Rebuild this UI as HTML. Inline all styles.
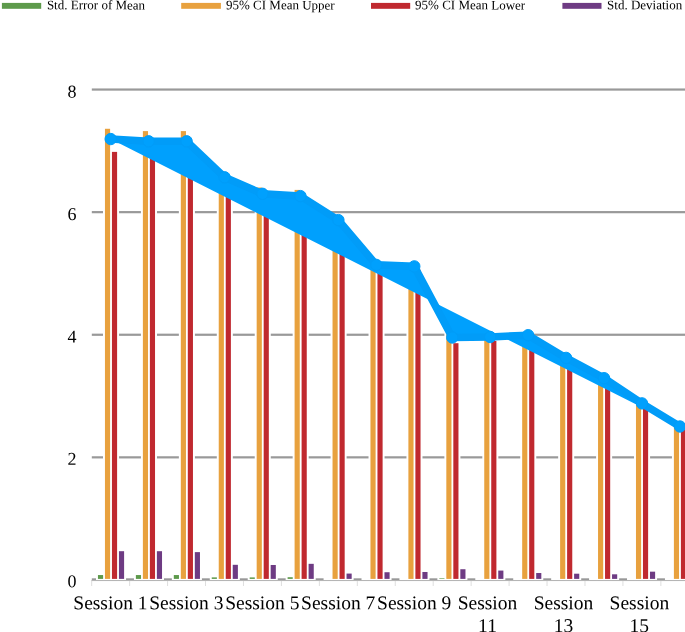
<!DOCTYPE html><html><head><meta charset="utf-8"><style>html,body{margin:0;padding:0;background:#fff;overflow:hidden}svg{display:block;will-change:transform}</style></head><body>
<svg width="685" height="632" viewBox="0 0 685 632" font-family="Liberation Serif, serif">
<rect width="685" height="632" fill="#fff"/>
<rect x="1.9" y="2.9" width="39.30" height="5.9" fill="#5d9a4b"/>
<text x="46.9" y="9.3" font-size="13" fill="#000" transform="rotate(0.05 46.9 9.3)">Std. Error of Mean</text>
<rect x="181.2" y="2.9" width="39.70" height="5.9" fill="#e8a13e"/>
<text x="226.0" y="9.3" font-size="13" fill="#000" transform="rotate(0.05 226.0 9.3)">95% CI Mean Upper</text>
<rect x="371.0" y="2.9" width="39.20" height="5.9" fill="#c0292f"/>
<text x="415.1" y="9.3" font-size="13" fill="#000" transform="rotate(0.05 415.1 9.3)">95% CI Mean Lower</text>
<rect x="562.4" y="2.9" width="39.10" height="5.9" fill="#6e3b83"/>
<text x="607.1" y="9.3" font-size="13" fill="#000" transform="rotate(0.05 607.1 9.3)">Std. Deviation</text>
<rect x="91.8" y="578.30" width="600" height="2.2" fill="#999999"/>
<rect x="91.8" y="456.25" width="600" height="2.2" fill="#999999"/>
<rect x="91.8" y="333.65" width="600" height="2.2" fill="#999999"/>
<rect x="91.8" y="211.05" width="600" height="2.2" fill="#999999"/>
<rect x="91.8" y="88.45" width="600" height="2.2" fill="#999999"/>
<text x="76.5" y="587.35" font-size="18" text-anchor="end" fill="#000" transform="rotate(0.05 76.5 587.35)">0</text>
<text x="76.5" y="464.85" font-size="18" text-anchor="end" fill="#000" transform="rotate(0.05 76.5 464.85)">2</text>
<text x="76.5" y="342.45" font-size="18" text-anchor="end" fill="#000" transform="rotate(0.05 76.5 342.45)">4</text>
<text x="76.5" y="219.90" font-size="18" text-anchor="end" fill="#000" transform="rotate(0.05 76.5 219.90)">6</text>
<text x="76.5" y="97.50" font-size="18" text-anchor="end" fill="#000" transform="rotate(0.05 76.5 97.50)">8</text>
<rect x="96.00" y="573.10" width="9.05" height="7.05" fill="#fff"/>
<rect x="103.00" y="126.83" width="9.05" height="453.32" fill="#fff"/>
<rect x="110.00" y="149.94" width="9.05" height="430.21" fill="#fff"/>
<rect x="117.00" y="549.25" width="9.05" height="30.90" fill="#fff"/>
<rect x="133.93" y="573.10" width="9.05" height="7.05" fill="#fff"/>
<rect x="140.93" y="129.15" width="9.05" height="451.00" fill="#fff"/>
<rect x="147.93" y="151.42" width="9.05" height="428.73" fill="#fff"/>
<rect x="154.93" y="549.25" width="9.05" height="30.90" fill="#fff"/>
<rect x="171.86" y="573.10" width="9.05" height="7.05" fill="#fff"/>
<rect x="178.86" y="129.15" width="9.05" height="451.00" fill="#fff"/>
<rect x="185.86" y="151.04" width="9.05" height="429.11" fill="#fff"/>
<rect x="192.86" y="550.17" width="9.05" height="29.98" fill="#fff"/>
<rect x="209.79" y="575.43" width="9.05" height="4.72" fill="#fff"/>
<rect x="216.79" y="168.99" width="9.05" height="411.16" fill="#fff"/>
<rect x="223.79" y="181.71" width="9.05" height="398.44" fill="#fff"/>
<rect x="230.79" y="562.86" width="9.05" height="17.29" fill="#fff"/>
<rect x="247.72" y="575.46" width="9.05" height="4.69" fill="#fff"/>
<rect x="254.72" y="185.57" width="9.05" height="394.58" fill="#fff"/>
<rect x="261.72" y="198.13" width="9.05" height="382.02" fill="#fff"/>
<rect x="268.72" y="563.04" width="9.05" height="17.11" fill="#fff"/>
<rect x="285.65" y="575.27" width="9.05" height="4.88" fill="#fff"/>
<rect x="292.65" y="187.95" width="9.05" height="392.20" fill="#fff"/>
<rect x="299.65" y="200.92" width="9.05" height="379.23" fill="#fff"/>
<rect x="306.65" y="561.88" width="9.05" height="18.27" fill="#fff"/>
<rect x="323.58" y="578.00" width="9.05" height="2.15" fill="#fff"/>
<rect x="330.58" y="215.47" width="9.05" height="364.68" fill="#fff"/>
<rect x="337.58" y="220.83" width="9.05" height="359.32" fill="#fff"/>
<rect x="344.58" y="571.62" width="9.05" height="8.53" fill="#fff"/>
<rect x="361.51" y="578.00" width="9.05" height="2.15" fill="#fff"/>
<rect x="368.51" y="259.71" width="9.05" height="320.44" fill="#fff"/>
<rect x="375.51" y="266.19" width="9.05" height="313.96" fill="#fff"/>
<rect x="382.51" y="570.28" width="9.05" height="9.87" fill="#fff"/>
<rect x="399.44" y="578.00" width="9.05" height="2.15" fill="#fff"/>
<rect x="406.44" y="261.10" width="9.05" height="319.05" fill="#fff"/>
<rect x="413.44" y="267.80" width="9.05" height="312.35" fill="#fff"/>
<rect x="420.44" y="570.03" width="9.05" height="10.12" fill="#fff"/>
<rect x="437.37" y="576.34" width="9.05" height="3.81" fill="#fff"/>
<rect x="444.37" y="331.04" width="9.05" height="249.11" fill="#fff"/>
<rect x="451.37" y="341.25" width="9.05" height="238.90" fill="#fff"/>
<rect x="458.37" y="567.27" width="9.05" height="12.88" fill="#fff"/>
<rect x="475.30" y="578.00" width="9.05" height="2.15" fill="#fff"/>
<rect x="482.30" y="331.11" width="9.05" height="249.04" fill="#fff"/>
<rect x="489.30" y="338.99" width="9.05" height="241.16" fill="#fff"/>
<rect x="496.30" y="568.62" width="9.05" height="11.53" fill="#fff"/>
<rect x="513.23" y="578.00" width="9.05" height="2.15" fill="#fff"/>
<rect x="520.23" y="330.34" width="9.05" height="249.81" fill="#fff"/>
<rect x="527.23" y="336.16" width="9.05" height="243.99" fill="#fff"/>
<rect x="534.23" y="571.07" width="9.05" height="9.08" fill="#fff"/>
<rect x="551.16" y="578.00" width="9.05" height="2.15" fill="#fff"/>
<rect x="558.16" y="353.32" width="9.05" height="226.83" fill="#fff"/>
<rect x="565.16" y="358.58" width="9.05" height="221.57" fill="#fff"/>
<rect x="572.16" y="571.75" width="9.05" height="8.40" fill="#fff"/>
<rect x="589.09" y="578.00" width="9.05" height="2.15" fill="#fff"/>
<rect x="596.09" y="373.88" width="9.05" height="206.27" fill="#fff"/>
<rect x="603.09" y="378.62" width="9.05" height="201.53" fill="#fff"/>
<rect x="610.09" y="572.36" width="9.05" height="7.79" fill="#fff"/>
<rect x="627.02" y="578.00" width="9.05" height="2.15" fill="#fff"/>
<rect x="634.02" y="397.97" width="9.05" height="182.18" fill="#fff"/>
<rect x="641.02" y="404.93" width="9.05" height="175.22" fill="#fff"/>
<rect x="648.02" y="569.72" width="9.05" height="10.43" fill="#fff"/>
<rect x="664.95" y="578.00" width="9.05" height="2.15" fill="#fff"/>
<rect x="671.95" y="421.46" width="9.05" height="158.69" fill="#fff"/>
<rect x="678.95" y="427.64" width="9.05" height="152.51" fill="#fff"/>
<rect x="685.95" y="570.64" width="9.05" height="9.51" fill="#fff"/>
<rect x="97.95" y="575.05" width="5.15" height="3.85" fill="#5d9a4b"/>
<rect x="104.95" y="128.78" width="5.15" height="450.12" fill="#e8a13e"/>
<rect x="111.95" y="151.89" width="5.15" height="427.01" fill="#c0292f"/>
<rect x="118.95" y="551.20" width="5.15" height="27.70" fill="#6e3b83"/>
<rect x="135.88" y="575.05" width="5.15" height="3.85" fill="#5d9a4b"/>
<rect x="142.88" y="131.10" width="5.15" height="447.80" fill="#e8a13e"/>
<rect x="149.88" y="153.37" width="5.15" height="425.53" fill="#c0292f"/>
<rect x="156.88" y="551.20" width="5.15" height="27.70" fill="#6e3b83"/>
<rect x="173.81" y="575.05" width="5.15" height="3.85" fill="#5d9a4b"/>
<rect x="180.81" y="131.10" width="5.15" height="447.80" fill="#e8a13e"/>
<rect x="187.81" y="152.99" width="5.15" height="425.91" fill="#c0292f"/>
<rect x="194.81" y="552.12" width="5.15" height="26.78" fill="#6e3b83"/>
<rect x="211.74" y="577.38" width="5.15" height="1.52" fill="#5d9a4b"/>
<rect x="218.74" y="170.94" width="5.15" height="407.96" fill="#e8a13e"/>
<rect x="225.74" y="183.66" width="5.15" height="395.24" fill="#c0292f"/>
<rect x="232.74" y="564.81" width="5.15" height="14.09" fill="#6e3b83"/>
<rect x="249.67" y="577.41" width="5.15" height="1.49" fill="#5d9a4b"/>
<rect x="256.67" y="187.52" width="5.15" height="391.38" fill="#e8a13e"/>
<rect x="263.67" y="200.08" width="5.15" height="378.82" fill="#c0292f"/>
<rect x="270.67" y="564.99" width="5.15" height="13.91" fill="#6e3b83"/>
<rect x="287.60" y="577.22" width="5.15" height="1.68" fill="#5d9a4b"/>
<rect x="294.60" y="189.90" width="5.15" height="389.00" fill="#e8a13e"/>
<rect x="301.60" y="202.87" width="5.15" height="376.03" fill="#c0292f"/>
<rect x="308.60" y="563.83" width="5.15" height="15.07" fill="#6e3b83"/>
<rect x="325.53" y="579.95" width="5.15" height="0.00" fill="#5d9a4b"/>
<rect x="332.53" y="217.42" width="5.15" height="361.48" fill="#e8a13e"/>
<rect x="339.53" y="222.78" width="5.15" height="356.12" fill="#c0292f"/>
<rect x="346.53" y="573.57" width="5.15" height="5.33" fill="#6e3b83"/>
<rect x="363.46" y="579.95" width="5.15" height="0.00" fill="#5d9a4b"/>
<rect x="370.46" y="261.66" width="5.15" height="317.24" fill="#e8a13e"/>
<rect x="377.46" y="268.14" width="5.15" height="310.76" fill="#c0292f"/>
<rect x="384.46" y="572.23" width="5.15" height="6.67" fill="#6e3b83"/>
<rect x="401.39" y="579.95" width="5.15" height="0.00" fill="#5d9a4b"/>
<rect x="408.39" y="263.05" width="5.15" height="315.85" fill="#e8a13e"/>
<rect x="415.39" y="269.75" width="5.15" height="309.15" fill="#c0292f"/>
<rect x="422.39" y="571.98" width="5.15" height="6.92" fill="#6e3b83"/>
<rect x="439.32" y="578.29" width="5.15" height="0.61" fill="#5d9a4b"/>
<rect x="446.32" y="332.99" width="5.15" height="245.91" fill="#e8a13e"/>
<rect x="453.32" y="343.20" width="5.15" height="235.70" fill="#c0292f"/>
<rect x="460.32" y="569.22" width="5.15" height="9.68" fill="#6e3b83"/>
<rect x="477.25" y="579.95" width="5.15" height="0.00" fill="#5d9a4b"/>
<rect x="484.25" y="333.06" width="5.15" height="245.84" fill="#e8a13e"/>
<rect x="491.25" y="340.94" width="5.15" height="237.96" fill="#c0292f"/>
<rect x="498.25" y="570.57" width="5.15" height="8.33" fill="#6e3b83"/>
<rect x="515.18" y="579.95" width="5.15" height="0.00" fill="#5d9a4b"/>
<rect x="522.18" y="332.29" width="5.15" height="246.61" fill="#e8a13e"/>
<rect x="529.18" y="338.11" width="5.15" height="240.79" fill="#c0292f"/>
<rect x="536.18" y="573.02" width="5.15" height="5.88" fill="#6e3b83"/>
<rect x="553.11" y="579.95" width="5.15" height="0.00" fill="#5d9a4b"/>
<rect x="560.11" y="355.27" width="5.15" height="223.63" fill="#e8a13e"/>
<rect x="567.11" y="360.53" width="5.15" height="218.37" fill="#c0292f"/>
<rect x="574.11" y="573.70" width="5.15" height="5.20" fill="#6e3b83"/>
<rect x="591.04" y="579.95" width="5.15" height="0.00" fill="#5d9a4b"/>
<rect x="598.04" y="375.83" width="5.15" height="203.07" fill="#e8a13e"/>
<rect x="605.04" y="380.57" width="5.15" height="198.33" fill="#c0292f"/>
<rect x="612.04" y="574.31" width="5.15" height="4.59" fill="#6e3b83"/>
<rect x="628.97" y="579.95" width="5.15" height="0.00" fill="#5d9a4b"/>
<rect x="635.97" y="399.92" width="5.15" height="178.98" fill="#e8a13e"/>
<rect x="642.97" y="406.88" width="5.15" height="172.02" fill="#c0292f"/>
<rect x="649.97" y="571.67" width="5.15" height="7.23" fill="#6e3b83"/>
<rect x="666.90" y="579.95" width="5.15" height="0.00" fill="#5d9a4b"/>
<rect x="673.90" y="423.41" width="5.15" height="155.49" fill="#e8a13e"/>
<rect x="680.90" y="429.59" width="5.15" height="149.31" fill="#c0292f"/>
<rect x="687.90" y="572.59" width="5.15" height="6.31" fill="#6e3b83"/>
<rect x="91.4" y="580.15" width="600" height="0.9" fill="#b0b0b0"/>
<rect x="91.18" y="581" width="1" height="5" fill="#dedede"/>
<rect x="129.13" y="581" width="1" height="5" fill="#dedede"/>
<rect x="167.07" y="581" width="1" height="5" fill="#dedede"/>
<rect x="205.02" y="581" width="1" height="5" fill="#dedede"/>
<rect x="242.96" y="581" width="1" height="5" fill="#dedede"/>
<rect x="280.91" y="581" width="1" height="5" fill="#dedede"/>
<rect x="318.86" y="581" width="1" height="5" fill="#dedede"/>
<rect x="356.80" y="581" width="1" height="5" fill="#dedede"/>
<rect x="394.75" y="581" width="1" height="5" fill="#dedede"/>
<rect x="432.69" y="581" width="1" height="5" fill="#dedede"/>
<rect x="470.64" y="581" width="1" height="5" fill="#dedede"/>
<rect x="508.59" y="581" width="1" height="5" fill="#dedede"/>
<rect x="546.53" y="581" width="1" height="5" fill="#dedede"/>
<rect x="584.48" y="581" width="1" height="5" fill="#dedede"/>
<rect x="622.42" y="581" width="1" height="5" fill="#dedede"/>
<rect x="660.37" y="581" width="1" height="5" fill="#dedede"/>
<rect x="698.32" y="581" width="1" height="5" fill="#dedede"/>
<path d="M110.70,139.05 L148.65,141.30 L186.60,141.30 L224.55,177.30 L262.50,193.80 L300.45,196.10 L338.40,220.10 L376.35,264.90 L414.30,266.40 L452.25,337.50 L490.20,337.00 L528.15,335.20 L566.10,357.90 L604.05,378.20 L642.00,403.40 L679.95,426.50" fill="#00a0fd" stroke="none"/>
<path d="M110.70,139.05 L148.65,141.30 L186.60,141.30 L224.55,177.30 L262.50,193.80 L300.45,196.10 L338.40,220.10 L376.35,264.90 L414.30,266.40 L452.25,337.50 L490.20,337.00 L528.15,335.20 L566.10,357.90 L604.05,378.20 L642.00,403.40 L679.95,426.50" fill="none" stroke="#019cf8" stroke-width="7.6" stroke-linejoin="round"/>
<circle cx="110.70" cy="139.05" r="5.7" fill="#00a0fd" stroke="#019cf8" stroke-width="1"/>
<circle cx="148.65" cy="141.30" r="5.7" fill="#00a0fd" stroke="#019cf8" stroke-width="1"/>
<circle cx="186.60" cy="141.30" r="5.7" fill="#00a0fd" stroke="#019cf8" stroke-width="1"/>
<circle cx="224.55" cy="177.30" r="5.7" fill="#00a0fd" stroke="#019cf8" stroke-width="1"/>
<circle cx="262.50" cy="193.80" r="5.7" fill="#00a0fd" stroke="#019cf8" stroke-width="1"/>
<circle cx="300.45" cy="196.10" r="5.7" fill="#00a0fd" stroke="#019cf8" stroke-width="1"/>
<circle cx="338.40" cy="220.10" r="5.7" fill="#00a0fd" stroke="#019cf8" stroke-width="1"/>
<circle cx="376.35" cy="264.90" r="5.7" fill="#00a0fd" stroke="#019cf8" stroke-width="1"/>
<circle cx="414.30" cy="266.40" r="5.7" fill="#00a0fd" stroke="#019cf8" stroke-width="1"/>
<circle cx="452.25" cy="337.50" r="5.7" fill="#00a0fd" stroke="#019cf8" stroke-width="1"/>
<circle cx="490.20" cy="337.00" r="5.7" fill="#00a0fd" stroke="#019cf8" stroke-width="1"/>
<circle cx="528.15" cy="335.20" r="5.7" fill="#00a0fd" stroke="#019cf8" stroke-width="1"/>
<circle cx="566.10" cy="357.90" r="5.7" fill="#00a0fd" stroke="#019cf8" stroke-width="1"/>
<circle cx="604.05" cy="378.20" r="5.7" fill="#00a0fd" stroke="#019cf8" stroke-width="1"/>
<circle cx="642.00" cy="403.40" r="5.7" fill="#00a0fd" stroke="#019cf8" stroke-width="1"/>
<circle cx="679.95" cy="426.50" r="5.7" fill="#00a0fd" stroke="#019cf8" stroke-width="1"/>
<text x="110.40" y="609.2" font-size="19.5" text-anchor="middle" fill="#000" transform="rotate(0.05 110.40 609.2)">Session 1</text>
<text x="186.34" y="609.2" font-size="19.5" text-anchor="middle" fill="#000" transform="rotate(0.05 186.34 609.2)">Session 3</text>
<text x="262.28" y="609.2" font-size="19.5" text-anchor="middle" fill="#000" transform="rotate(0.05 262.28 609.2)">Session 5</text>
<text x="338.22" y="609.2" font-size="19.5" text-anchor="middle" fill="#000" transform="rotate(0.05 338.22 609.2)">Session 7</text>
<text x="414.16" y="609.2" font-size="19.5" text-anchor="middle" fill="#000" transform="rotate(0.05 414.16 609.2)">Session 9</text>
<text x="487.50" y="609.2" font-size="19.5" text-anchor="middle" fill="#000" transform="rotate(0.05 487.50 609.2)">Session</text>
<text x="487.50" y="632.1" font-size="19.5" text-anchor="middle" fill="#000" transform="rotate(0.05 487.50 632.1)">11</text>
<text x="563.44" y="609.2" font-size="19.5" text-anchor="middle" fill="#000" transform="rotate(0.05 563.44 609.2)">Session</text>
<text x="563.44" y="632.1" font-size="19.5" text-anchor="middle" fill="#000" transform="rotate(0.05 563.44 632.1)">13</text>
<text x="639.38" y="609.2" font-size="19.5" text-anchor="middle" fill="#000" transform="rotate(0.05 639.38 609.2)">Session</text>
<text x="639.38" y="632.1" font-size="19.5" text-anchor="middle" fill="#000" transform="rotate(0.05 639.38 632.1)">15</text>
</svg></body></html>
